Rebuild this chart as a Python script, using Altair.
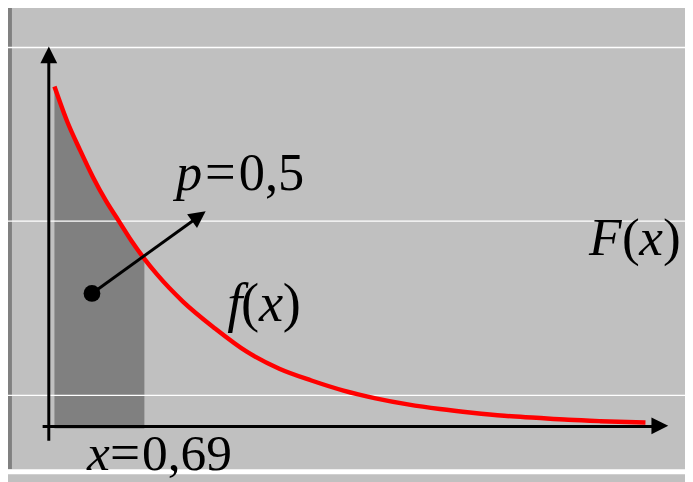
import altair as alt
import pandas as pd

# ---- data ----
# density curve f(x)
curve_x = [0.0, 0.1, 0.2, 0.3, 0.4, 0.5, 0.6, 0.7, 0.8, 1.0, 1.25, 1.5, 1.75, 2.0, 2.25,
           2.5, 2.75, 3.0, 3.25, 3.5, 3.75, 4.0, 4.25, 4.6]
curve_y = [1.01, 0.905, 0.82, 0.74, 0.67, 0.61, 0.55, 0.497, 0.45, 0.37, 0.29, 0.22, 0.17,
           0.135, 0.105, 0.082, 0.064, 0.05, 0.039, 0.03, 0.024, 0.018, 0.014, 0.01]
# shaded probability area p = 0,5 up to x = 0,69
shade_x = [0.0, 0.1, 0.2, 0.3, 0.4, 0.5, 0.6, 0.7]
shade_y = [1.01, 0.905, 0.82, 0.74, 0.67, 0.61, 0.55, 0.497]
shade_floor = -0.008
# light horizontal lines
grid_y = [1.126, 0.609, 0.091]
# drawn axes (segments) and arrow
seg_x = [-0.044, -0.092, 0.292]
seg_y = [-0.044, -0.002, 0.394]
seg_x2 = [-0.044, 4.654, 1.083]
seg_y2 = [1.082, -0.002, 0.612]
head_x = [-0.044, 4.712, 1.124]
head_y = [1.104, 0.0, 0.624]
head_angle = [0, 90, 54]
dot_x = [0.292]
dot_y = [0.394]
# frame pieces
frame_left_x = [-0.35]
frame_left_y = [1.26]
frame_left_y2 = [-0.129]
frame_bottom_y = [-0.1368]
frame_bottom_x = [-0.37]
frame_bottom_x2 = [4.95]
# labels
it_text = ["p", "f", "x", "F", "x", "x"]
it_x = [0.946, 1.345, 1.592, 4.16, 4.552, 0.254]
it_y = [0.703, 0.312, 0.312, 0.509, 0.509, -0.132]
it_size = [53, 55, 55, 54, 54, 52]
up_text = ["=", "0,5", "(", ")", "(", ")", "=", "0,69"]
up_x = [1.171, 1.435, 1.452, 1.777, 4.418, 4.737, 0.432, 0.681]
up_y = [0.703, 0.703, 0.312, 0.312, 0.509, 0.509, -0.132, -0.132]
up_size = [55, 53, 55, 55, 54, 54, 54, 52]

XDOM = [-0.3615, 4.9077]
YDOM = [-0.1588, 1.2353]

xs = alt.Scale(domain=XDOM, nice=False, zero=False)
ys = alt.Scale(domain=YDOM, nice=False, zero=False)

curve = pd.DataFrame({"x": curve_x, "y": curve_y})
shade = pd.DataFrame({"x": shade_x, "y": shade_y, "y0": [shade_floor] * len(shade_x)})
grid = pd.DataFrame({"y": grid_y})
segs = pd.DataFrame({"x": seg_x, "y": seg_y, "x2": seg_x2, "y2": seg_y2})
heads = pd.DataFrame({"x": head_x, "y": head_y, "a": head_angle})
dots = pd.DataFrame({"x": dot_x, "y": dot_y})
fl = pd.DataFrame({"x": frame_left_x, "y": frame_left_y, "y2": frame_left_y2})
fb = pd.DataFrame({"y": frame_bottom_y, "x": frame_bottom_x, "x2": frame_bottom_x2})
it = pd.DataFrame({"t": it_text, "x": it_x, "y": it_y, "s": it_size})
up = pd.DataFrame({"t": up_text, "x": up_x, "y": up_y, "s": up_size})

X = lambda: alt.X("x:Q", scale=xs, axis=None)
Y = lambda: alt.Y("y:Q", scale=ys, axis=None)

area = alt.Chart(shade).mark_area(color="#808080", opacity=1).encode(
    x=X(), y=Y(), y2="y0:Q")

left_border = alt.Chart(fl).mark_rule(color="#808080", strokeWidth=5).encode(
    x=X(), y=Y(), y2="y2:Q")
bottom_band = alt.Chart(fb).mark_rule(color="#ffffff", strokeWidth=5).encode(
    x=X(), x2="x2:Q", y=Y())

gridlines = alt.Chart(grid).mark_rule(color="#ffffff", strokeWidth=1.3).encode(y=Y())

line = alt.Chart(curve).mark_line(color="#ff0000", strokeWidth=4.5,
                                  interpolate="monotone").encode(x=X(), y=Y())

axes = alt.Chart(segs).mark_rule(color="#000000", strokeWidth=3).encode(
    x=X(), x2="x2:Q", y=Y(), y2="y2:Q")

arrowheads = alt.Chart(heads).mark_point(
    shape="M0,-1L1,1L-1,1Z", filled=True, size=289, color="#000000", opacity=1,
    strokeWidth=0).encode(x=X(), y=Y(), angle=alt.Angle("a:Q", scale=None))

dot = alt.Chart(dots).mark_point(shape="circle", filled=True, size=289,
                                 color="#000000", opacity=1, strokeWidth=0).encode(
    x=X(), y=Y())

it_lbl = alt.Chart(it).mark_text(font="Liberation Serif", fontStyle="italic",
                                 align="left", baseline="alphabetic",
                                 color="#000000").encode(
    x=X(), y=Y(), text="t:N", size=alt.Size("s:Q", scale=None))
up_lbl = alt.Chart(up).mark_text(font="Liberation Serif", align="left",
                                 baseline="alphabetic", color="#000000").encode(
    x=X(), y=Y(), text="t:N", size=alt.Size("s:Q", scale=None))

chart = alt.layer(
    area, left_border, bottom_band, gridlines, line, axes, arrowheads, dot, it_lbl, up_lbl
).properties(
    width=685, height=474, padding=0,
    autosize=alt.AutoSizeParams(type="none"),
    background="#c0c0c0",
).configure_view(strokeWidth=0, fill="#c0c0c0")

chart.save("out.html", embed_options={"renderer": "svg", "actions": False})
